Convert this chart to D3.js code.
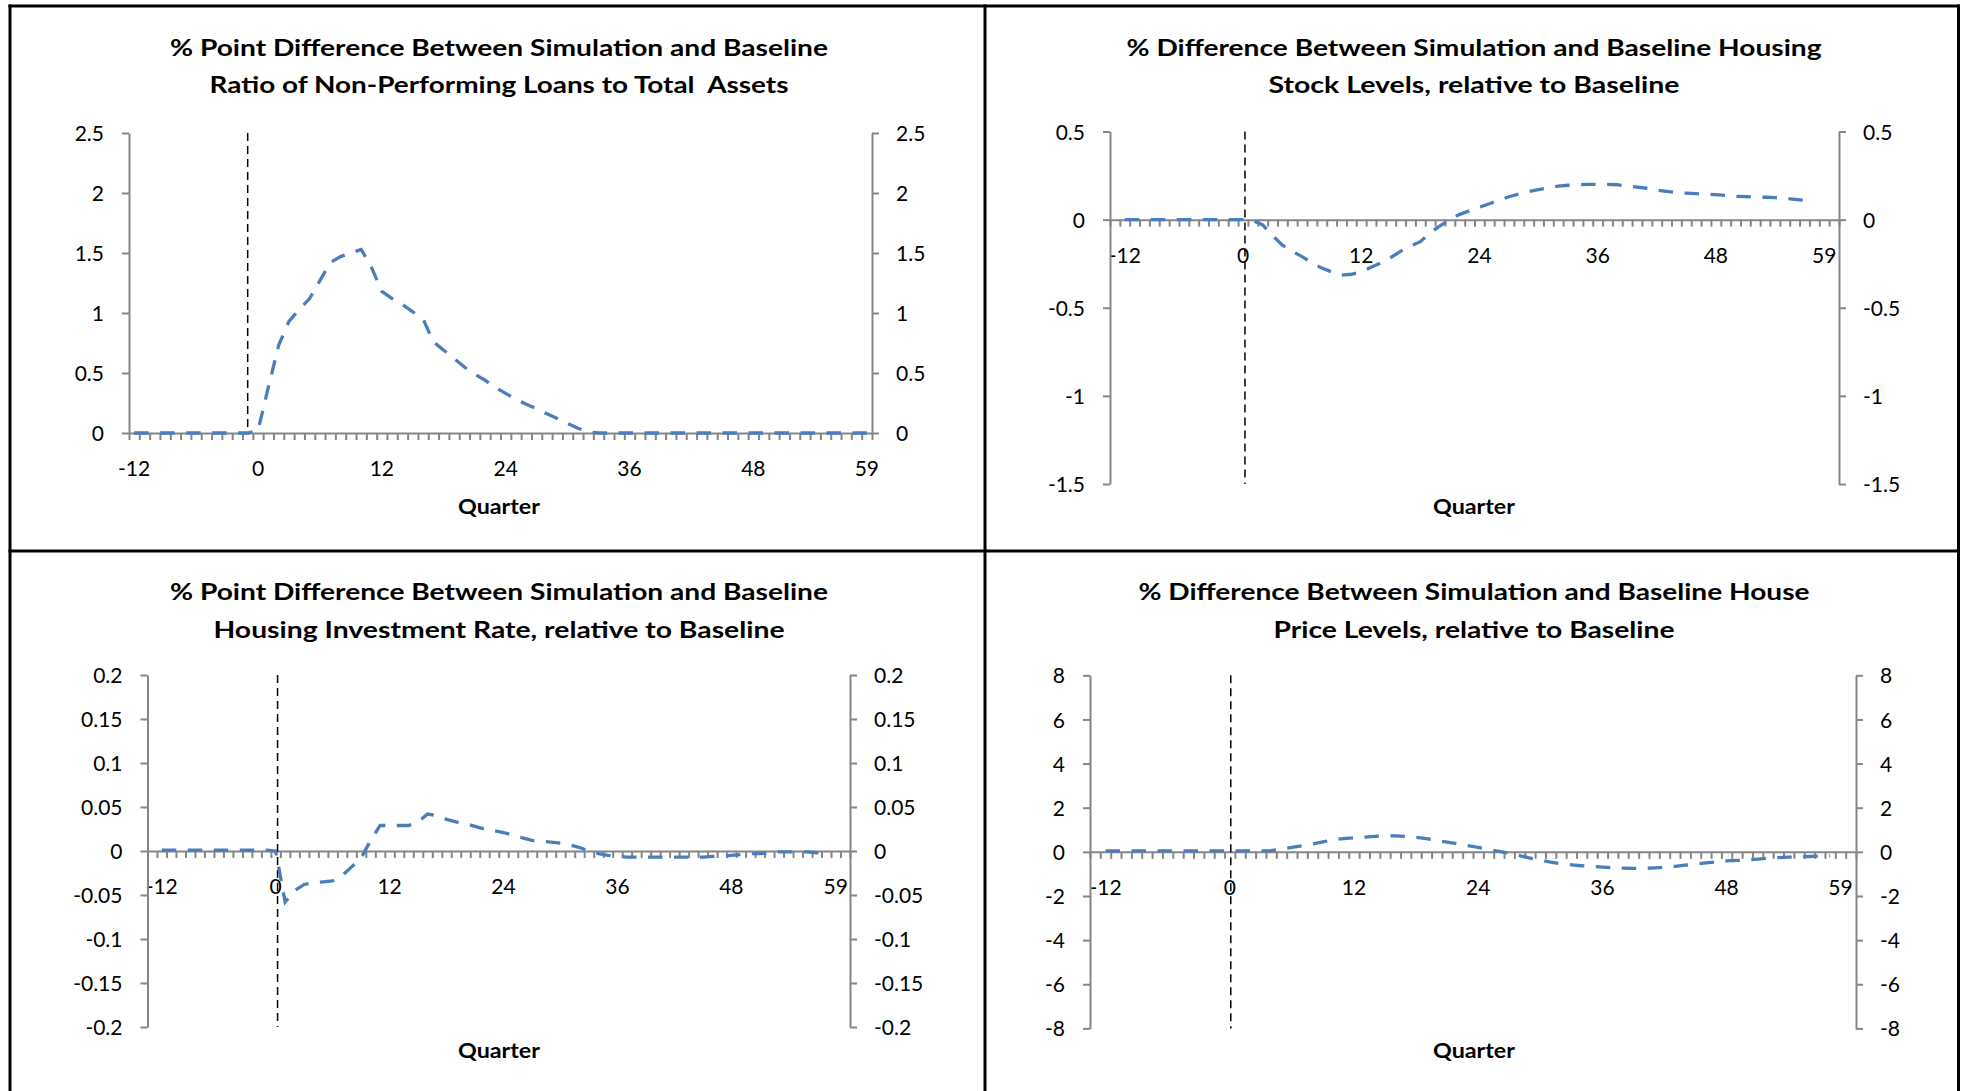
<!DOCTYPE html>
<html>
<head>
<meta charset="utf-8">
<script src="https://cdn.jsdelivr.net/npm/d3@7"></script>
<style>
  body { margin: 0; background: #fff; }
  text { font-family: Lato, "Open Sans", sans-serif; fill: #000; white-space: pre; }
</style>
</head>
<body>
<div id="chart"></div>
<script>
// categories
const quartersLong = d3.range(-12, 60);   // -12 .. 59
const quartersShort = d3.range(-12, 59);  // -12 .. 58
const xLabels = [-12, 0, 12, 24, 36, 48, 59];

// series values
const nplValues = [
  0, 0, 0, 0, 0, 0, 0, 0, 0, 0, 0, 0,
  0.02, 0.38, 0.73, 0.93, 1.03, 1.12, 1.27, 1.42, 1.47, 1.50, 1.53, 1.38,
  1.18, 1.12, 1.07, 1.01, 0.95, 0.76, 0.69, 0.62, 0.55, 0.49, 0.44, 0.38,
  0.33, 0.28, 0.24, 0.20, 0.16, 0.12, 0.08, 0.04, 0.01,
  0, 0, 0, 0, 0, 0, 0, 0, 0, 0, 0, 0, 0, 0, 0, 0, 0, 0, 0, 0, 0, 0, 0, 0, 0, 0, 0
];

const stockValues = [
  0, 0, 0, 0, 0, 0, 0, 0, 0, 0, 0, 0, 0,
  -0.005, -0.03, -0.09, -0.145, -0.18, -0.21, -0.245, -0.275, -0.297, -0.315,
  -0.31, -0.296, -0.27, -0.245, -0.215, -0.18, -0.15, -0.125, -0.075, -0.035,
  0, 0.03, 0.05, 0.07, 0.09, 0.11, 0.13, 0.145, 0.16, 0.17, 0.18, 0.19, 0.195,
  0.198, 0.2, 0.2, 0.2, 0.198, 0.19, 0.185, 0.178, 0.168, 0.16, 0.153, 0.15,
  0.147, 0.145, 0.142, 0.137, 0.132, 0.13, 0.128, 0.127, 0.125, 0.121, 0.115,
  0.11, 0.108
];

const investValues = [
  0.001, 0.001, 0.001, 0.001, 0.001, 0.001, 0.001, 0.001, 0.001, 0.001, 0.001, 0.001,
  0, -0.058, -0.045, -0.038, -0.036, -0.035, -0.034, -0.028, -0.018, -0.008, 0.012,
  0.029, 0.029, 0.029, 0.029, 0.033, 0.042, 0.04, 0.036, 0.033, 0.031, 0.028,
  0.025, 0.023, 0.021, 0.018, 0.015, 0.012, 0.011, 0.01, 0.009, 0.007, 0.004,
  0, -0.003, -0.005, -0.006,
  -0.007, -0.007, -0.007, -0.007, -0.007, -0.007, -0.007, -0.007, -0.007,
  -0.006, -0.006, -0.005, -0.004, -0.003, -0.003, -0.002, -0.001, -0.001,
  -0.001, -0.001, -0.002, -0.002
];

const priceValues = [
  0.04, 0.04, 0.04, 0.04, 0.04, 0.04, 0.04, 0.04, 0.04, 0.04, 0.04, 0.04,
  0.04, 0.04, 0.04, 0.04,
  0.06, 0.13, 0.2, 0.28, 0.36, 0.45, 0.55, 0.6, 0.64, 0.67, 0.7, 0.72, 0.72,
  0.7, 0.66, 0.6, 0.52, 0.44, 0.36, 0.28, 0.2, 0.11, 0.02, -0.06, -0.17,
  -0.28, -0.38, -0.47, -0.54, -0.59, -0.63, -0.66, -0.69, -0.72, -0.74,
  -0.75, -0.75, -0.73, -0.7, -0.66, -0.6, -0.55, -0.5, -0.45, -0.41, -0.39,
  -0.37, -0.33, -0.29, -0.26, -0.24, -0.23, -0.21, -0.19, -0.18
];

// tick labels
const nplTicks = [0, 0.5, 1, 1.5, 2, 2.5];
const stockTicks = [-1.5, -1, -0.5, 0, 0.5];
const investTicks = [-0.2, -0.15, -0.1, -0.05, 0, 0.05, 0.1, 0.15, 0.2];
const priceTicks = [-8, -6, -4, -2, 0, 2, 4, 6, 8];

// quarter where the dashed marker line stands
const shockQuarters = [-1, 0.2, 0.2, 0.1];

const titles = [
  ["% Point Difference Between Simulation and Baseline", "Ratio of Non-Performing Loans to Total  Assets"],
  ["% Difference Between Simulation and Baseline Housing", "Stock Levels, relative to Baseline"],
  ["% Point Difference Between Simulation and Baseline", "Housing Investment Rate, relative to Baseline"],
  ["% Difference Between Simulation and Baseline House", "Price Levels, relative to Baseline"]
];

// layout (pixels)
const layout = [
  { left: 129, right: 872, top: 133, bottom: 433, cx: 499, titleY: [56, 93], titleW: [658, 579], quarterY: 514, xDomain: [-12.5, 59.5] },
  { left: 1110, right: 1839, top: 131.5, bottom: 484, cx: 1474, titleY: [56, 93], titleW: [695, 411], quarterY: 514, xDomain: [-13.5, 60.5] },
  { left: 147.5, right: 850, top: 675, bottom: 1027, cx: 499, titleY: [600, 638], titleW: [658, 571], quarterY: 1058, xDomain: [-13.5, 60.5] },
  { left: 1090, right: 1856, top: 675.3, bottom: 1028.4, cx: 1474, titleY: [600, 638], titleW: [671, 401], quarterY: 1058, xDomain: [-13.5, 60.5] }
];

const series = [
  { quarters: quartersLong, values: nplValues, ticks: nplTicks },
  { quarters: quartersShort, values: stockValues, ticks: stockTicks },
  { quarters: quartersShort, values: investValues, ticks: investTicks },
  { quarters: quartersShort, values: priceValues, ticks: priceTicks }
];

const axisColor = "#868686";
const lineColor = "#4a7ebb";

const svg = d3
  .select("#chart")
  .append("svg")
  .attr("width", 1966)
  .attr("height", 1091);

function styleAxis(g) {
  g.attr("font-family", null).attr("font-size", null);
  g.select(".domain").attr("stroke", axisColor).attr("stroke-width", 2);
  g.selectAll(".tick line").attr("stroke", axisColor).attr("stroke-width", 2);
  g.selectAll(".tick text").style("font-size", "21px").attr("dy", "0.36em");
}

function drawPanel(s, p, i) {
  const yDomain = d3.extent(s.ticks);
  const x = d3.scaleLinear().domain(p.xDomain).range([p.left, p.right]);
  const y = d3.scaleLinear().domain(yDomain).range([p.bottom, p.top]);
  const g = svg.append("g").attr("class", "panel");

  titles[i].forEach((t, k) => {
    g.append("text")
      .text(t)
      .attr("x", p.cx)
      .attr("y", p.titleY[k])
      .attr("text-anchor", "middle")
      .attr("font-weight", "bold")
      .style("font-size", "23px")
      .attr("textLength", p.titleW[k])
      .attr("lengthAdjust", "spacingAndGlyphs");
  });

  // category boundaries on the zero line
  const bounds = d3.range(p.xDomain[0], p.xDomain[1] + 0.01, 1);
  g.append("g")
    .attr("transform", `translate(0 ${y(0)})`)
    .call(d3.axisBottom(x).tickValues(bounds).tickSize(7).tickSizeOuter(0).tickFormat(""))
    .call(styleAxis);

  g.selectAll(".xlabel")
    .data(xLabels)
    .join("text")
    .attr("class", "xlabel")
    .text((d) => d)
    .attr("x", (d) => x(d))
    .attr("y", y(0) + 35.5)
    .attr("dy", "0.36em")
    .attr("text-anchor", "middle")
    .style("font-size", "21px");

  g.append("g")
    .attr("transform", `translate(${p.left} 0)`)
    .call(d3.axisLeft(y).tickValues(s.ticks).tickSize(7).tickSizeOuter(0).tickPadding(18).tickFormat((d) => d))
    .call(styleAxis);

  g.append("g")
    .attr("transform", `translate(${p.right} 0)`)
    .call(d3.axisRight(y).tickValues(s.ticks).tickSize(7).tickSizeOuter(0).tickPadding(17).tickFormat((d) => d))
    .call(styleAxis);

  g.append("text")
    .text("Quarter")
    .attr("x", p.cx)
    .attr("y", p.quarterY)
    .attr("text-anchor", "middle")
    .attr("font-weight", "bold")
    .style("font-size", "21px")
    .attr("textLength", 82)
    .attr("lengthAdjust", "spacingAndGlyphs");

  g.append("line")
    .attr("x1", x(shockQuarters[i]))
    .attr("x2", x(shockQuarters[i]))
    .attr("y1", y(yDomain[1]))
    .attr("y2", y(yDomain[0]))
    .attr("stroke", "#000")
    .attr("stroke-width", 1.5)
    .attr("stroke-dasharray", "8,5");

  const pts = s.quarters.map((q, k) => ({ q: q, v: s.values[k] }));
  const line = d3.line().x((d) => x(d.q)).y((d) => y(d.v));

  g.append("path")
    .datum(pts)
    .attr("d", line)
    .attr("fill", "none")
    .attr("stroke", lineColor)
    .attr("stroke-width", 3.3)
    .attr("stroke-dasharray", "14.5,11.5");
}

series.forEach((s, i) => drawPanel(s, layout[i], i));

// panel frame
const frameX = [10, 985, 1958.5];
const frameY = [6, 551];
svg.selectAll(".vframe")
  .data(frameX)
  .join("line")
  .attr("class", "vframe")
  .attr("x1", (d) => d).attr("x2", (d) => d)
  .attr("y1", 4.5).attr("y2", 1091)
  .attr("stroke", "#000").attr("stroke-width", 3);
svg.selectAll(".hframe")
  .data(frameY)
  .join("line")
  .attr("class", "hframe")
  .attr("x1", 8.5).attr("x2", 1960)
  .attr("y1", (d) => d).attr("y2", (d) => d)
  .attr("stroke", "#000").attr("stroke-width", 3);
</script>
</body>
</html>
